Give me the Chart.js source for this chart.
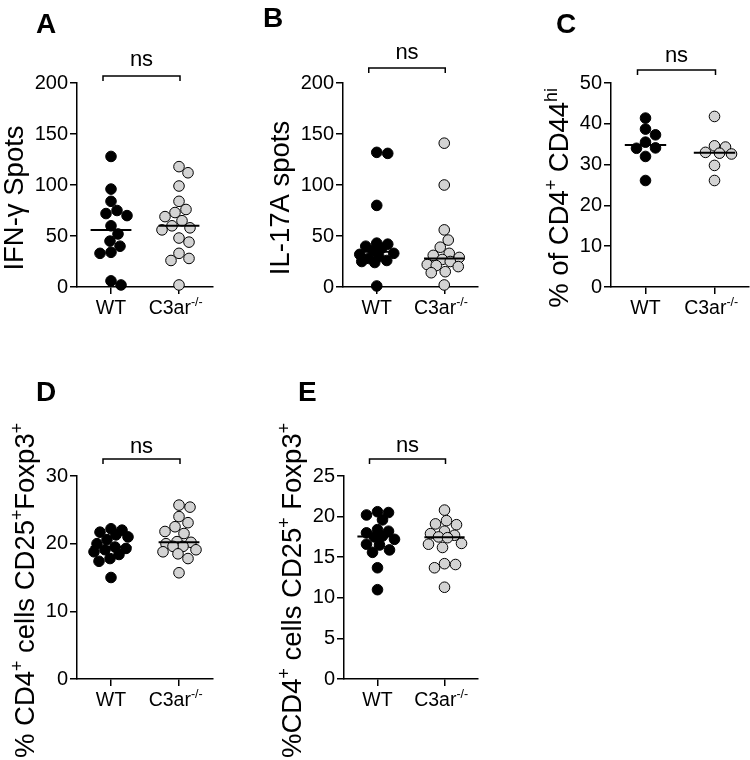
<!DOCTYPE html>
<html>
<head>
<meta charset="utf-8">
<script src="https://cdn.jsdelivr.net/npm/chart.js@4.4.1/dist/chart.umd.min.js"></script>
<style>
html,body{margin:0;padding:0;background:#fff;}
#wrap{position:relative;width:750px;height:760px;overflow:hidden;background:#fff;}
#wrap canvas{position:absolute;}
</style>
</head>
<body>
<div id="wrap">
<canvas id="cA" width="250" height="330" style="left:0px;top:0px"></canvas>
<canvas id="cB" width="250" height="330" style="left:250px;top:0px"></canvas>
<canvas id="cC" width="250" height="330" style="left:500px;top:0px"></canvas>
<canvas id="cD" width="250" height="390" style="left:0px;top:370px"></canvas>
<canvas id="cE" width="250" height="390" style="left:250px;top:370px"></canvas>
</div>
<script>
// ---------------- data ----------------
const groups = ['WT', 'C3ar^{-/-}'];
const significance = 'ns';

const ifngWT = [128, 96, 84, 75, 72, 70, 60, 52, 45, 40, 34, 33, 6, 2];
const ifngKO = [118, 112, 99, 84, 76, 73, 69, 65, 60, 58, 56, 48, 44, 33, 28, 26, 2];

const il17WT = [132, 131, 80, 43, 42, 40, 38, 36, 33, 32, 30, 28, 26, 25, 24, 1];
const il17KO = [141, 100, 56, 46, 39, 33, 31, 29, 27, 25, 22, 21, 20, 15, 14, 2];

const cd44WT = [41.4, 38.7, 37.3, 35.5, 34.1, 34.0, 32.0, 26.1];
const cd44KO = [41.8, 34.6, 34.3, 33.0, 32.8, 32.6, 29.8, 26.1];

const tregDWT = [22.2, 22.0, 21.7, 21.3, 21.0, 20.6, 20.0, 19.5, 19.3, 19.1, 18.8, 18.4, 17.8, 17.4, 15.0];
const tregDKO = [25.7, 25.4, 24.0, 23.1, 22.5, 21.8, 21.5, 20.3, 20.2, 20.0, 19.6, 19.6, 19.1, 18.8, 18.5, 17.8, 15.7];

const tregEWT = [20.6, 20.5, 20.2, 19.6, 18.4, 18.2, 18.0, 17.6, 17.5, 17.2, 16.6, 16.5, 15.9, 15.6, 13.7, 11.0];
const tregEKO = [20.8, 19.5, 19.1, 19.0, 18.2, 17.9, 17.7, 17.5, 17.4, 16.7, 16.6, 16.2, 14.2, 14.1, 13.7, 11.3];

const yTicksA = {max: 200, step: 50};
const yTicksB = {max: 200, step: 50};
const yTicksC = {max: 50, step: 10};
const yTicksD = {max: 30, step: 10};
const yTicksE = {max: 25, step: 5};

// ---------------- layout / style ----------------
const FAM = "'Liberation Sans', Arial, Helvetica, sans-serif";
Chart.defaults.font.family = FAM;
Chart.defaults.color = '#000';

const panels = [
  {id: 'cA', letter: 'A', title: 'IFN-\u03b3 Spots', wt: ifngWT, ko: ifngKO, yt: yTicksA,
   yW: 77, pad: {top: 83, right: 37, bottom: 3, left: 0}, letterX: 36, letterY: 33, bracketGap: 7, sigGap: 10},
  {id: 'cB', letter: 'B', title: 'IL-17A spots', wt: il17WT, ko: il17KO, yt: yTicksB,
   yW: 93, pad: {top: 83, right: 22, bottom: 3, left: 0}, letterX: 13, letterY: 27, bracketGap: 15, sigGap: 9},
  {id: 'cC', letter: 'C', title: '% of CD4^{+} CD44^{hi}', wt: cd44WT, ko: cd44KO, yt: yTicksC,
   yW: 111, pad: {top: 83, right: 1, bottom: 3, left: 0}, letterX: 56, letterY: 33, bracketGap: 13, sigGap: 8},
  {id: 'cD', letter: 'D', title: '% CD4^{+} cells CD25^{+}Foxp3^{+}', wt: tregDWT, ko: tregDKO, yt: yTicksD,
   yW: 77, pad: {top: 106, right: 37, bottom: 41, left: 0}, letterX: 36, letterY: 31, bracketGap: 17, sigGap: 6},
  {id: 'cE', letter: 'E', title: '%CD4^{+} cells CD25^{+} Foxp3^{+}', wt: tregEWT, ko: tregEKO, yt: yTicksE,
   yW: 94, pad: {top: 106, right: 22, bottom: 41, left: 0}, letterX: 48, letterY: 31, bracketGap: 17, sigGap: 7}
];

function median(arr) {
  const s = arr.slice().sort((a, b) => a - b);
  const n = s.length;
  return n % 2 ? s[(n - 1) / 2] : (s[n / 2 - 1] + s[n / 2]) / 2;
}

function parseRich(s) {
  const parts = [];
  const re = /\^\{([^}]*)\}/g;
  let last = 0, m;
  while ((m = re.exec(s))) {
    if (m.index > last) parts.push({t: s.slice(last, m.index), sup: false});
    parts.push({t: m[1], sup: true});
    last = re.lastIndex;
  }
  if (last < s.length) parts.push({t: s.slice(last), sup: false});
  return parts;
}

// draws rich text centred on cx, baseline y
function drawRich(ctx, s, cx, y, size, fullSupCentering) {
  const parts = parseRich(s);
  const supSize = size * 0.64;
  let wc = 0;
  parts.forEach(p => {
    ctx.font = (p.sup ? supSize : size) + 'px ' + FAM;
    p.w = ctx.measureText(p.t).width;
    if (fullSupCentering && p.sup) {
      ctx.font = size + 'px ' + FAM;
      wc += ctx.measureText(p.t).width;
    } else wc += p.w;
  });
  let x = cx - wc / 2;
  ctx.textAlign = 'left';
  ctx.textBaseline = 'alphabetic';
  parts.forEach(p => {
    ctx.font = (p.sup ? supSize : size) + 'px ' + FAM;
    ctx.fillText(p.t, x, p.sup ? y - size * 0.4 : y);
    x += p.w;
  });
}

// simple beeswarm in pixel space
function swarmOffsets(pys, diam, cap) {
  const idx = pys.map((_, i) => i).sort((a, b) => pys[a] - pys[b]);
  const placed = [];
  const offs = new Array(pys.length).fill(0);
  const minD = diam * 0.92;
  for (const i of idx) {
    let best = 0, bestScore = -Infinity;
    for (let k = 0; k <= 2 * cap; k++) {
      const dx = (k % 2 ? 1 : -1) * Math.ceil(k / 2);
      let md = Infinity;
      for (const p of placed) {
        const d = Math.hypot(dx - p.x, pys[i] - p.y);
        if (d < md) md = d;
      }
      if (md >= minD) { best = dx; bestScore = Infinity; break; }
      if (md > bestScore + 0.5) { bestScore = md; best = dx; }
    }
    offs[i] = best;
    placed.push({x: best, y: pys[i]});
  }
  return offs;
}

const swarmPlugin = {
  id: 'swarm',
  afterDatasetUpdate(chart, args) {
    const ds = chart.data.datasets[args.index];
    if (!ds.swarm) return;
    const els = args.meta.data;
    const pys = els.map(e => e.y);
    const diam = 2 * ds.pointRadius + ds.borderWidth;
    const offs = swarmOffsets(pys, diam, 17);
    els.forEach((e, i) => { e.x += offs[i]; });
  }
};

const decoPlugin = {
  id: 'deco',
  afterDraw(chart, args, o) {
    const ctx = chart.ctx, ca = chart.chartArea, xs = chart.scales.x, ys = chart.scales.y;
    ctx.save();
    ctx.fillStyle = '#000';
    ctx.strokeStyle = '#000';
    // panel letter
    ctx.font = 'bold 28px ' + FAM;
    ctx.textAlign = 'left';
    ctx.textBaseline = 'alphabetic';
    ctx.fillText(o.letter, o.letterX, o.letterY);
    // significance bracket
    const bx1 = xs.getPixelForValue(1) - 8, bx2 = xs.getPixelForValue(2) + 1;
    const by = ca.top - o.bracketGap;
    ctx.lineWidth = 1.5;
    ctx.beginPath();
    ctx.moveTo(bx1, by + 5); ctx.lineTo(bx1, by); ctx.lineTo(bx2, by); ctx.lineTo(bx2, by + 5);
    ctx.stroke();
    ctx.font = '22px ' + FAM;
    ctx.textAlign = 'center';
    ctx.fillText(significance, (bx1 + bx2) / 2, by - o.sigGap);
    // x category labels
    groups.forEach((g, i) => drawRich(ctx, g, xs.getPixelForValue(i + 1), ca.bottom + 27, 19.5, true));
    // y title
    ctx.font = '20px ' + FAM;
    let maxW = 0;
    ys.ticks.forEach(t => { maxW = Math.max(maxW, ctx.measureText(String(t.label)).width); });
    const baseX = ca.left - 9 - maxW - 12;
    const cy = (ca.top + ca.bottom + 26) / 2;
    ctx.translate(baseX, cy);
    ctx.rotate(-Math.PI / 2);
    drawRich(ctx, o.title, 0, 0, 27.5, false);
    ctx.restore();
  }
};

const axisLine = {drawOnChartArea: false, drawTicks: true, tickLength: 7, color: '#000', lineWidth: 1.5};

panels.forEach(p => {
  const mWT = median(p.wt), mKO = median(p.ko);
  new Chart(document.getElementById(p.id), {
    type: 'scatter',
    data: {
      datasets: [
        {data: [{x: 0.7, y: mWT}, {x: 1.3, y: mWT}], showLine: true, borderColor: '#000', borderWidth: 2,
         pointRadius: 0, order: 0, clip: false},
        {data: [{x: 1.7, y: mKO}, {x: 2.3, y: mKO}], showLine: true, borderColor: '#000', borderWidth: 2,
         pointRadius: 0, order: 0, clip: false},
        {data: p.wt.map(v => ({x: 1, y: v})), backgroundColor: '#000', borderColor: '#000',
         pointRadius: 5.3, borderWidth: 1, swarm: true, order: 1, clip: false},
        {data: p.ko.map(v => ({x: 2, y: v})), backgroundColor: '#d3d3d3', borderColor: '#000',
         pointRadius: 5.3, borderWidth: 1, swarm: true, order: 1, clip: false}
      ]
    },
    options: {
      responsive: false,
      animation: false,
      layout: {autoPadding: false, padding: p.pad},
      plugins: {
        legend: {display: false},
        tooltip: {enabled: false},
        deco: {letter: p.letter, title: p.title, letterX: p.letterX, letterY: p.letterY,
               bracketGap: p.bracketGap, sigGap: p.sigGap}
      },
      scales: {
        x: {
          type: 'linear', min: 0.5, max: 2.5,
          afterBuildTicks: s => { s.ticks = [{value: 1}, {value: 2}]; },
          ticks: {display: false},
          grid: axisLine,
          border: {color: '#000', width: 1.5},
          afterFit: s => { s.height = 40; }
        },
        y: {
          min: 0, max: p.yt.max,
          ticks: {stepSize: p.yt.step, font: {size: 20}, color: '#000', padding: 2},
          grid: axisLine,
          border: {color: '#000', width: 1.5},
          afterFit: s => { s.width = p.yW; }
        }
      }
    },
    plugins: [swarmPlugin, decoPlugin]
  });
});
</script>
</body>
</html>
